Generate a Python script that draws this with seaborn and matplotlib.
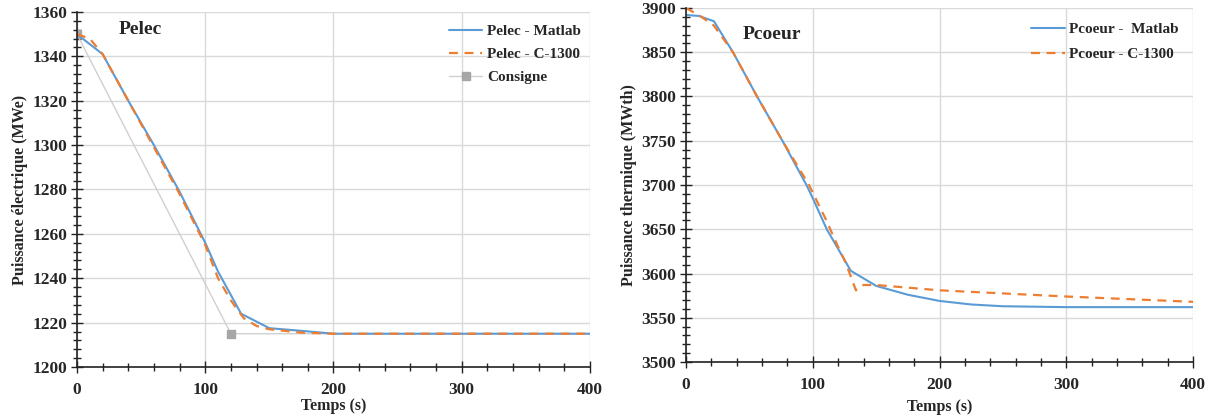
import matplotlib
matplotlib.use("Agg")
import matplotlib.pyplot as plt
import seaborn as sns
import pandas as pd
from matplotlib.ticker import MultipleLocator

# Pelec (left panel)
t_pelec_matlab = [0, 20, 40, 60, 80, 100, 110, 128, 150, 175, 200, 400]
pelec_matlab = [1350, 1341, 1320, 1300, 1279, 1256, 1243, 1224, 1217.5, 1216.3, 1215, 1215]
t_pelec_c1300 = [0, 10, 20, 40, 60, 80, 100, 110, 120, 130, 140, 150, 175, 200, 400]
pelec_c1300 = [1350, 1348, 1341, 1320, 1299, 1278, 1255, 1240, 1230, 1222, 1218.5, 1217, 1215.5, 1215, 1215]
t_consigne = [0, 120, 400]
consigne = [1350, 1215, 1215]

# Pcoeur (right panel)
t_pcoeur_matlab = [0, 10, 22, 37, 56, 76, 95, 100, 111, 130, 150, 175, 200, 225, 250, 300, 400]
pcoeur_matlab = [3892, 3891, 3885, 3850, 3800, 3750, 3700, 3685, 3650, 3603, 3586, 3576,
                 3569, 3565, 3563, 3562, 3562]
t_pcoeur_c1300 = [0, 11, 22, 37, 56, 76, 97, 110, 120, 126, 134, 140, 150, 200, 300, 400]
pcoeur_c1300 = [3900, 3891, 3880, 3850, 3800, 3750, 3700, 3662, 3630, 3612, 3581, 3587,
                3587, 3581, 3574, 3568]

BLUE = "#5b9bd5"
ORANGE = "#ed7d31"
GREY = "#a6a6a6"

sns.set_theme(style="whitegrid")
plt.rcParams["font.family"] = ["Liberation Serif", "DejaVu Serif"]
plt.rcParams["font.weight"] = "bold"
plt.rcParams["axes.labelweight"] = "bold"

fig = plt.figure(figsize=(12.1, 4.19), dpi=100)
ax1 = fig.add_axes([0.0636, 0.1241, 0.4240, 0.8473])
ax2 = fig.add_axes([0.5670, 0.1360, 0.4190, 0.8450])


def style_axes(ax, ymajor, yminor):
    ax.set_xlim(0, 400)
    ax.xaxis.set_major_locator(MultipleLocator(100))
    ax.xaxis.set_minor_locator(MultipleLocator(20))
    ax.yaxis.set_major_locator(MultipleLocator(ymajor))
    ax.yaxis.set_minor_locator(MultipleLocator(yminor))
    ax.grid(True, which="major", color="#d9d9d9", linewidth=1)
    ax.grid(False, which="minor")
    for side in ["top", "right"]:
        ax.spines[side].set_visible(False)
    for side in ["left", "bottom"]:
        ax.spines[side].set_color("#222222")
        ax.spines[side].set_linewidth(1.2)
    ax.tick_params(which="major", direction="inout", length=8, width=1,
                   color="#222222", labelsize=12.5)
    ax.tick_params(which="minor", direction="inout", length=6, width=1,
                   color="#222222", left=True, bottom=True)
    ax.tick_params(axis="both", which="major", left=True, bottom=True)
    ax.tick_params(axis="x", which="major", pad=7)
    ax.tick_params(axis="y", which="major", pad=3)
    for lab in ax.get_xticklabels() + ax.get_yticklabels():
        lab.set_fontweight("bold")


# Left panel
df_pm = pd.DataFrame({"t": t_pelec_matlab, "p": pelec_matlab})
df_pc = pd.DataFrame({"t": t_pelec_c1300, "p": pelec_c1300})
df_cs = pd.DataFrame({"t": t_consigne, "p": consigne})
sns.lineplot(data=df_pm, x="t", y="p", ax=ax1, color=BLUE, linewidth=1.5,
             label="Pelec - Matlab", sort=False)
sns.lineplot(data=df_pc, x="t", y="p", ax=ax1, color=ORANGE, linewidth=1.6,
             linestyle=(0, (4, 3)), label="Pelec - C-1300", sort=False)
ax1.plot(df_cs["t"], df_cs["p"], color="#d0d0d0", linewidth=1, marker="s",
         markersize=6, markerfacecolor=GREY, markeredgecolor=GREY,
         markevery=[0, 1], label="Consigne", zorder=1)
ax1.set_ylim(1200, 1360)
style_axes(ax1, 20, 4)
ax1.set_xlabel("Temps (s)", fontsize=11.5, fontweight="bold", labelpad=0)
ax1.set_ylabel("Puissance électrique (MWe)", fontsize=11.5, fontweight="bold",
               labelpad=3)
ax1.text(0.123, 0.95, "Pelec", transform=ax1.transAxes, fontsize=14,
         fontweight="bold", ha="center", va="center")
ax1.legend(loc="upper right", frameon=False, prop={"weight": "bold", "size": 11},
           handlelength=2.2, handletextpad=0.3, labelspacing=0.6,
           bbox_to_anchor=(1.0, 0.99), borderaxespad=0.2)

# Right panel
df_qm = pd.DataFrame({"t": t_pcoeur_matlab, "p": pcoeur_matlab})
df_qc = pd.DataFrame({"t": t_pcoeur_c1300, "p": pcoeur_c1300})
sns.lineplot(data=df_qm, x="t", y="p", ax=ax2, color=BLUE, linewidth=1.5,
             label="Pcoeur -  Matlab", sort=False)
sns.lineplot(data=df_qc, x="t", y="p", ax=ax2, color=ORANGE, linewidth=1.6,
             linestyle=(0, (4, 3)), label="Pcoeur - C-1300", sort=False)
ax2.set_ylim(3500, 3900)
style_axes(ax2, 50, 10)
ax2.set_xlabel("Temps (s)", fontsize=11.5, fontweight="bold", labelpad=4)
ax2.set_ylabel("Puissance thermique (MWth)", fontsize=11.5, fontweight="bold",
               labelpad=3)
ax2.text(0.17, 0.925, "Pcoeur", transform=ax2.transAxes, fontsize=14,
         fontweight="bold", ha="center", va="center")
ax2.legend(loc="upper right", frameon=False, prop={"weight": "bold", "size": 11},
           handlelength=2.2, handletextpad=0.3, labelspacing=0.75,
           bbox_to_anchor=(0.99, 0.985), borderaxespad=0.2)

fig.savefig("out.png", dpi=100)
